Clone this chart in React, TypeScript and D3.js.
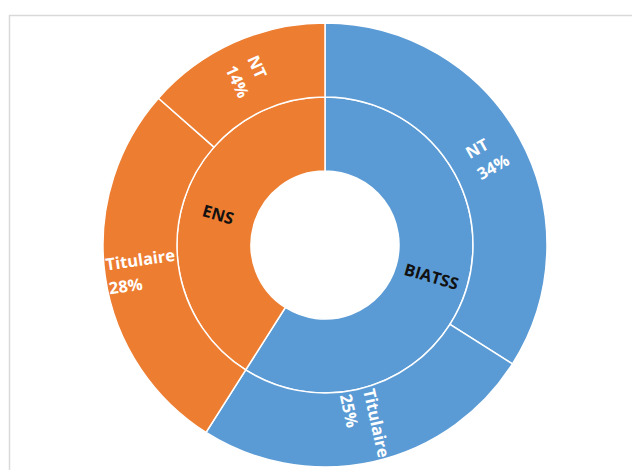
import React, { useEffect, useRef } from "react";
import * as d3 from "d3";

const groupNames = ["BIATSS", "ENS"];
const groupColors = ["#5B9BD5", "#ED7D31"];
const subNames = ["NT", "Titulaire", "Titulaire", "NT"];
const subParents = ["BIATSS", "BIATSS", "ENS", "ENS"];
const subValues = [34, 25, 27.5, 13.5];

const W = 632;
const H = 470;
const CX = 325;
const CY = 245;
const R0 = 74;
const R1 = 148;
const R2 = 222;

function rotationFor(a: number) {
  let deg = (a * 180) / Math.PI - 90;
  while (deg > 180) deg -= 360;
  while (deg <= -180) deg += 360;
  if (deg > 90) deg -= 180;
  if (deg < -90) deg += 180;
  return deg;
}

export default function App() {
  const ref = useRef<SVGSVGElement>(null);
  useEffect(() => {
    const svg = d3.select(ref.current);
    svg.selectAll("*").remove();
    svg.append("rect").attr("width", W).attr("height", H).attr("fill", "#fff");
    svg
      .append("rect")
      .attr("x", 9.5)
      .attr("y", 15.5)
      .attr("width", W + 20)
      .attr("height", H + 20)
      .attr("fill", "#fff")
      .attr("stroke", "#d9d9d9")
      .attr("stroke-width", 1.5);

    const groupTotals = groupNames.map((g) =>
      d3.sum(subValues.filter((_, i) => subParents[i] === g))
    );
    const pie = d3
      .pie<number>()
      .sort(null)
      .value((d) => d)
      .startAngle(0)
      .endAngle(2 * Math.PI);
    const innerArcs = pie(groupTotals);
    const outerArcs = pie(subValues);
    const total = d3.sum(subValues);

    const g = svg.append("g").attr("transform", `translate(${CX},${CY})`);
    const innerArc = d3.arc<any>().innerRadius(R0).outerRadius(R1);
    const outerArc = d3.arc<any>().innerRadius(R1).outerRadius(R2);

    g.selectAll("path.inner")
      .data(innerArcs)
      .enter()
      .append("path")
      .attr("d", innerArc)
      .attr("fill", (_, i) => groupColors[i])
      .attr("stroke", "#fff")
      .attr("stroke-width", 1.5);

    g.selectAll("path.outer")
      .data(outerArcs)
      .enter()
      .append("path")
      .attr("d", outerArc)
      .attr("fill", (_, i) => groupColors[groupNames.indexOf(subParents[i])])
      .attr("stroke", "#fff")
      .attr("stroke-width", 1.5);

    const font = "'Open Sans', sans-serif";

    function addLabel(a: number, r: number, lines: string[], color: string) {
      const x = r * Math.sin(a);
      const y = -r * Math.cos(a);
      const lg = g
        .append("g")
        .attr("transform", `translate(${x},${y}) rotate(${rotationFor(a)})`);
      const lh = 24;
      const texts = lines.map((ln, i) =>
        lg
          .append("text")
          .attr("x", 0)
          .attr("y", (i - (lines.length - 1) / 2) * lh)
          .attr("dominant-baseline", "central")
          .attr("text-anchor", "start")
          .attr("font-family", font)
          .attr("font-weight", 700)
          .attr("font-size", 16.5)
          .attr("fill", color)
          .text(ln)
      );
      const maxW = d3.max(texts, (t) => (t.node() as SVGTextElement).getComputedTextLength()) || 0;
      texts.forEach((t) => t.attr("x", -maxW / 2));
    }

    innerArcs.forEach((d, i) => {
      addLabel((d.startAngle + d.endAngle) / 2, (R0 + R1) / 2, [groupNames[i]], "#111");
    });
    outerArcs.forEach((d, i) => {
      const pct = Math.round((subValues[i] / total) * 100) + "%";
      addLabel((d.startAngle + d.endAngle) / 2, (R1 + R2) / 2, [subNames[i], pct], "#fff");
    });
  }, []);
  return (
    <svg
      ref={ref}
      width={W}
      height={H}
      style={{ position: "absolute", left: 0, top: 0, display: "block" }}
    />
  );
}
